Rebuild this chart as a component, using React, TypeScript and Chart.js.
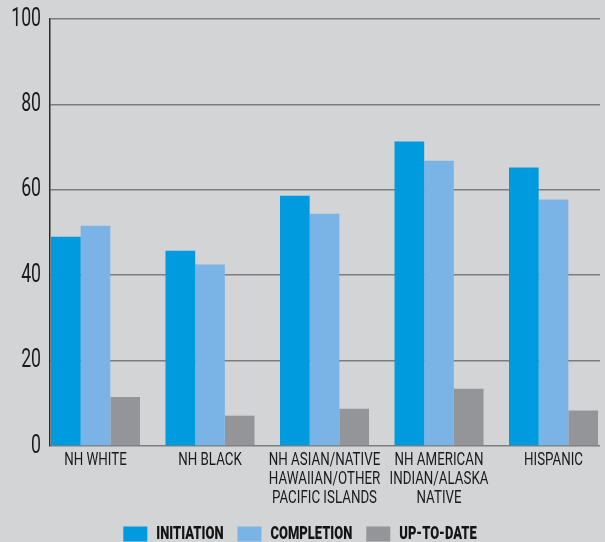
import React, { useEffect, useRef } from "react";
import { Chart, registerables } from "chart.js";

Chart.register(...registerables);

const categories: string[][] = [
  ["NH WHITE"],
  ["NH BLACK"],
  ["NH ASIAN/NATIVE", "HAWAIIAN/OTHER", "PACIFIC ISLANDS"],
  ["NH AMERICAN", "INDIAN/ALASKA", "NATIVE"],
  ["HISPANIC"],
];
const initiation = [49.0, 45.7, 58.6, 71.3, 65.2];
const completion = [51.6, 42.5, 54.4, 66.8, 57.7];
const upToDate = [11.5, 7.1, 8.7, 13.4, 8.3];
const yTicks = [0, 20, 40, 60, 80, 100];

const FONT = "Roboto, 'DejaVu Sans', sans-serif";

// condense text horizontally (the reference uses a condensed typeface)
function squeezeContext(ctx: any) {
  if (ctx.__squeezed) return;
  ctx.__squeezed = true;
  const origFill = ctx.fillText.bind(ctx);
  const origMeasure = ctx.measureText.bind(ctx);
  const factor = () => {
    const m = /(\d+(?:\.\d+)?)px/.exec(ctx.font);
    const s = m ? parseFloat(m[1]) : 12;
    return s >= 24 ? 0.68 : 0.72;
  };
  ctx.fillText = (text: string, x: number, y: number, maxWidth?: number) => {
    const w = origMeasure(text).width * factor();
    origFill(text, x, y, maxWidth !== undefined ? Math.min(maxWidth, w) : w);
  };
  ctx.measureText = (text: string) => {
    const m = origMeasure(text);
    const f = factor();
    return {
      width: m.width * f,
      actualBoundingBoxAscent: m.actualBoundingBoxAscent,
      actualBoundingBoxDescent: m.actualBoundingBoxDescent,
      actualBoundingBoxLeft: m.actualBoundingBoxLeft * f,
      actualBoundingBoxRight: m.actualBoundingBoxRight * f,
      fontBoundingBoxAscent: m.fontBoundingBoxAscent,
      fontBoundingBoxDescent: m.fontBoundingBoxDescent,
    };
  };
}

export default function App() {
  const ref = useRef<HTMLCanvasElement | null>(null);
  useEffect(() => {
    if (!ref.current) return;
    const ctx = ref.current.getContext("2d");
    squeezeContext(ctx);
    const toXY = (vals: number[]) => vals.map((v, i) => ({ x: i, y: v }));
    const chart = new Chart(ref.current, {
      type: "bar",
      data: {
        datasets: [
          { label: "INITIATION", data: toXY(initiation), backgroundColor: "#009ade" },
          { label: "COMPLETION", data: toXY(completion), backgroundColor: "#7ab4e6" },
          { label: "UP-TO-DATE", data: toXY(upToDate), backgroundColor: "#949598" },
        ],
      },
      options: {
        animation: false,
        responsive: false,
        maintainAspectRatio: false,
        layout: { padding: { top: 19, left: 0, right: 5, bottom: -11 } },
        datasets: { bar: { categoryPercentage: 0.7773, barPercentage: 1.0 } },
        plugins: {
          tooltip: { enabled: false },
          legend: {
            position: "bottom",
            labels: {
              boxWidth: 24,
              boxHeight: 15,
              padding: 14,
              color: "#141414",
              font: { family: FONT, size: 18, weight: "900" },
            },
          },
        },
        scales: {
          x: {
            type: "linear",
            min: -0.3974,
            max: 4.406,
            offset: false,
            grid: { display: false, offset: false, drawTicks: false },
            border: { display: false },
            afterBuildTicks: (scale: any) => {
              scale.ticks = categories.map((_, i) => ({ value: i }));
            },
            afterFit: (scale: any) => {
              scale.height = 65;
            },
            ticks: {
              autoSkip: false,
              maxRotation: 0,
              padding: 5,
              color: "#1a1a1a",
              font: { family: FONT, size: 18.5, lineHeight: 1.03 },
              callback: (v: any) => {
                const i = Math.round(Number(v));
                return categories[i] ?? "";
              },
            },
          },
          y: {
            min: 0,
            max: 100,
            grid: {
              color: "#7c7c7c",
              lineWidth: 1.5,
              drawTicks: true,
              tickLength: 6,
              tickColor: "rgba(0,0,0,0)",
            },
            border: { display: true, color: "#2a2a2a", width: 1.5 },
            afterBuildTicks: (scale: any) => {
              scale.ticks = yTicks.map((v) => ({ value: v }));
            },
            afterFit: (scale: any) => {
              scale.width = 50;
            },
            ticks: {
              padding: 3,
              color: "#1a1a1a",
              font: { family: FONT, size: 26, lineHeight: 1.2 },
            },
          },
        },
      },
    });
    return () => chart.destroy();
  }, []);
  return (
    <div style={{ position: "absolute", left: 0, top: 0, width: 605, height: 542, background: "#d3d4d6" }}>
      <canvas ref={ref} width={605} height={542} style={{ display: "block", width: 605, height: 542 }} />
    </div>
  );
}
